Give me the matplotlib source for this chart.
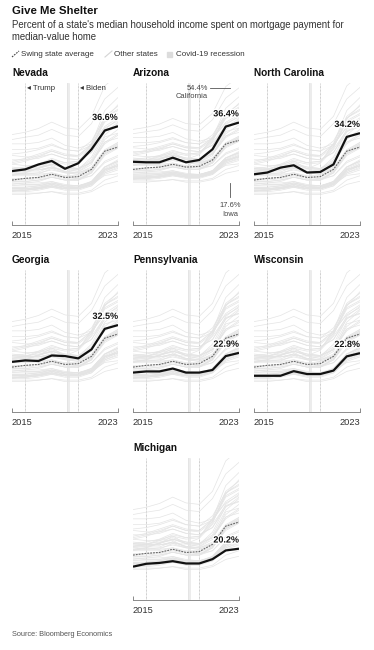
import matplotlib.pyplot as plt
import matplotlib.patheffects as pe
from matplotlib.lines import Line2D
from matplotlib.patches import Rectangle

plt.rcParams['font.family'] = ['Liberation Sans', 'DejaVu Sans']

# ==== DATA ====
years = [2015, 2016, 2017, 2018, 2019, 2020, 2021, 2022, 2023]

swing_names = ["Nevada", "Arizona", "North Carolina", "Georgia",
               "Pennsylvania", "Wisconsin", "Michigan"]
nevada = [21.1, 21.7, 23.4, 24.6, 21.9, 23.8, 28.6, 35.1, 36.6]
arizona = [21.0, 20.8, 20.8, 22.6, 20.8, 21.7, 25.9, 34.8, 36.4]
north_carolina = [20.0, 20.6, 22.3, 23.1, 20.6, 20.8, 23.4, 32.9, 34.2]
georgia = [19.8, 20.3, 20.1, 22.0, 21.8, 21.0, 24.1, 31.2, 32.5]
pennsylvania = [16.1, 16.5, 16.5, 17.5, 16.1, 16.1, 17.0, 21.8, 22.9]
wisconsin = [15.0, 15.0, 15.0, 16.6, 15.6, 15.6, 16.8, 21.7, 22.8]
michigan = [14.0, 15.0, 15.3, 15.9, 15.1, 15.1, 16.6, 19.6, 20.2]
swing_series = [nevada, arizona, north_carolina, georgia,
                pennsylvania, wisconsin, michigan]

swing_avg = [18.0, 18.6, 18.9, 20.0, 18.9, 19.2, 21.7, 28.0, 29.4]

# other states (read roughly off the grey spaghetti)
other_states = [
    [33.7, 34.5, 35.8, 38.0, 36.0, 35.5, 40.0, 50.5, 54.4],  # California
    [32.0, 32.8, 33.5, 35.5, 33.5, 33.0, 37.5, 46.0, 50.0],
    [27.0, 27.5, 28.5, 30.0, 28.5, 28.0, 31.5, 39.5, 42.5],
    [24.5, 25.5, 27.0, 28.5, 27.0, 26.5, 30.0, 38.5, 41.0],
    [23.5, 24.5, 26.0, 28.0, 26.5, 26.5, 30.5, 40.0, 43.5],
    [24.0, 25.0, 26.5, 28.0, 26.5, 26.0, 29.5, 38.0, 40.5],
    [22.0, 22.5, 23.5, 25.5, 24.0, 24.5, 29.0, 39.0, 44.0],
    [19.5, 20.5, 22.0, 24.5, 23.5, 24.0, 30.5, 42.0, 46.5],
    [21.0, 21.5, 23.0, 25.0, 24.0, 24.5, 29.5, 39.5, 42.0],
    [20.5, 21.0, 22.0, 23.5, 22.0, 22.0, 25.0, 33.5, 37.5],
    [28.5, 28.5, 29.0, 30.5, 28.5, 28.0, 30.0, 36.5, 39.5],
    [26.5, 26.0, 26.0, 27.0, 25.5, 25.0, 27.5, 34.5, 38.0],
    [25.0, 25.0, 25.5, 27.0, 25.5, 25.0, 27.5, 35.5, 39.0],
    [23.5, 23.0, 23.0, 24.0, 22.5, 22.0, 24.0, 30.5, 33.5],
    [21.5, 21.5, 22.0, 23.5, 22.0, 21.5, 24.5, 32.0, 35.5],
    [22.0, 22.0, 22.5, 23.5, 22.5, 22.0, 24.0, 31.0, 34.0],
    [22.5, 22.0, 21.5, 22.0, 20.5, 20.0, 21.5, 27.5, 30.5],
    [22.0, 21.5, 21.5, 22.5, 21.0, 20.5, 22.0, 27.5, 30.0],
    [21.5, 21.5, 21.5, 22.5, 21.0, 20.5, 22.5, 28.5, 31.0],
    [20.0, 20.0, 20.5, 21.5, 20.5, 20.0, 22.0, 28.0, 30.5],
    [30.5, 30.5, 31.0, 32.5, 30.0, 29.0, 30.5, 36.0, 38.5],
    [18.5, 18.5, 19.0, 20.0, 19.0, 19.0, 21.0, 27.0, 29.5],
    [16.5, 17.0, 17.5, 19.0, 18.0, 18.0, 21.0, 28.0, 31.0],
    [17.5, 17.5, 18.0, 19.0, 18.0, 18.0, 20.5, 27.0, 29.5],
    [18.0, 18.5, 19.0, 20.0, 19.0, 18.5, 20.5, 27.5, 29.0],
    [19.5, 19.5, 19.5, 20.5, 19.5, 19.5, 21.5, 27.5, 30.0],
    [17.5, 17.5, 18.0, 19.0, 18.0, 18.0, 20.5, 26.5, 29.0],
    [20.5, 20.0, 20.0, 20.5, 19.0, 18.5, 19.5, 24.0, 26.0],
    [18.0, 18.0, 18.5, 19.5, 18.5, 18.0, 19.5, 24.5, 26.5],
    [15.0, 15.0, 15.5, 16.5, 15.5, 15.5, 17.5, 22.5, 24.5],
    [14.5, 14.5, 15.0, 16.0, 15.0, 15.0, 16.5, 21.5, 23.5],
    [17.0, 17.0, 17.0, 17.5, 16.5, 16.0, 17.0, 21.5, 23.0],
    [14.5, 14.5, 15.0, 16.0, 15.0, 15.0, 17.0, 22.0, 24.0],
    [15.0, 15.0, 15.5, 16.5, 15.5, 15.5, 17.5, 22.5, 24.5],
    [15.5, 15.5, 16.0, 17.0, 16.0, 16.0, 17.5, 22.5, 25.0],
    [14.0, 14.0, 14.5, 15.5, 15.0, 15.0, 16.5, 21.5, 23.5],
    [14.5, 14.5, 15.0, 16.0, 15.0, 15.0, 16.5, 21.0, 23.0],
    [17.0, 16.5, 16.5, 17.0, 16.0, 15.5, 16.5, 20.5, 22.0],
    [15.0, 15.0, 15.5, 16.0, 15.0, 15.0, 16.5, 21.0, 23.0],
    [15.5, 15.5, 16.0, 17.0, 16.0, 16.0, 17.5, 22.5, 24.5],
    [14.5, 14.5, 15.0, 15.5, 14.5, 14.5, 16.0, 20.5, 22.5],
    [16.0, 16.0, 16.0, 16.5, 15.5, 15.0, 16.0, 20.0, 21.5],
    [13.5, 13.5, 13.5, 14.0, 13.5, 13.5, 14.5, 18.0, 19.5],
    [13.0, 13.0, 13.5, 14.0, 13.0, 13.0, 14.0, 16.5, 17.6],  # Iowa
]

trump_x = 2016.0
biden_x = 2020.0
covid_span = (2019.12, 2019.3)

# ==== LAYOUT (pixels of a 374x650 canvas) ====
W, H = 374, 650
fig = plt.figure(figsize=(W / 100, H / 100), dpi=100)
fig.patch.set_facecolor('white')

col_left = [12, 133, 254]
row_top = [83, 270, 458]
ax_w, ax_h = 106, 142
slots = [(0, 0), (0, 1), (0, 2), (1, 0), (1, 1), (1, 2), (2, 1)]

GREY = '#e4e4e4'
DARK = '#111111'


def ftext(x, y, s, **kw):
    fig.text(x / W, 1 - y / H, s, va='center', **kw)


ftext(12, 11, "Give Me Shelter", fontsize=8.2, fontweight='bold', color='#111')
ftext(12, 25, "Percent of a state's median household income spent on mortgage payment for",
      fontsize=6.9, color='#333')
ftext(12, 37, "median-value home", fontsize=6.9, color='#333')

# legend
fig.add_artist(Line2D([12 / W, 19 / W], [1 - 57 / H, 1 - 51 / H], color='#444',
                      lw=0.8, linestyle=(0, (1.5, 1))))
ftext(21, 54, "Swing state average", fontsize=5.8, color='#333')
fig.add_artist(Line2D([105 / W, 112 / W], [1 - 57 / H, 1 - 51 / H], color='#d4d4d4', lw=0.8))
ftext(114, 54, "Other states", fontsize=5.8, color='#333')
fig.add_artist(Rectangle((167 / W, 1 - 56.5 / H), 5 / W, 5 / H, color='#dcdcdc',
                         transform=fig.transFigure))
ftext(176, 54, "Covid-19 recession", fontsize=5.8, color='#333')

ftext(12, 634, "Source: Bloomberg Economics", fontsize=5.3, color='#555')

for i, (name, vals) in enumerate(zip(swing_names, swing_series)):
    r, c = slots[i]
    left = col_left[c]
    top = row_top[r]
    ax = fig.add_axes([left / W, 1 - (top + ax_h) / H, ax_w / W, ax_h / H])
    ax.set_facecolor('none')

    ax.axvspan(*covid_span, color='#ececec', lw=0, zorder=0)
    for xv in covid_span:
        ax.axvline(xv, color='#dedede', lw=0.4, zorder=0)
    for xv in (trump_x, biden_x):
        ax.axvline(xv, color='#a0a0a0', lw=0.5, linestyle=(0, (1, 1)), zorder=1)

    for s in other_states:
        ax.plot(years, s, color=GREY, lw=0.5, zorder=2)
    for j, other in enumerate(swing_series):
        if j != i:
            ax.plot(years, other, color=GREY, lw=0.5, zorder=2)

    ax.plot(years, swing_avg, color='#666666', lw=0.8, linestyle=(0, (1.6, 1)), zorder=3)
    ax.plot(years, vals, color=DARK, lw=1.6, zorder=4, solid_capstyle='butt')

    ax.annotate(f"{vals[-1]:.1f}%", xy=(years[-1], vals[-1]), xytext=(0, 3),
                textcoords='offset points', ha='right', va='bottom',
                fontsize=6.5, fontweight='bold', color=DARK, zorder=5,
                path_effects=[pe.withStroke(linewidth=2, foreground='white')])

    ax.set_xlim(years[0], years[-1])
    if name == "Arizona":
        ax.set_ylim(-3.8, 51.9)
    else:
        ax.set_ylim(2.5, 51.5)

    for sp in ('top', 'left', 'right'):
        ax.spines[sp].set_visible(False)
    ax.spines['bottom'].set_color('#777')
    ax.spines['bottom'].set_linewidth(0.6)
    ax.set_yticks([])
    ax.set_xticks([years[0], years[-1]])
    ax.set_xticklabels([str(years[0]), str(years[-1])])
    ax.tick_params(axis='x', direction='in', length=3, width=0.6, color='#777',
                   labelsize=6.7, labelcolor='#333', pad=4)
    lbls = ax.get_xticklabels()
    lbls[0].set_ha('left')
    lbls[1].set_ha('right')

    ax.text(0, 1.07, name, transform=ax.transAxes, fontsize=7.3,
            fontweight='bold', color='#111', va='center', ha='left')

    if name == "Nevada":
        ax.text(trump_x + 0.15, 0.963, "◂ Trump", transform=ax.get_xaxis_transform(),
                fontsize=5.6, color='#333', va='center', ha='left')
        ax.text(biden_x + 0.15, 0.963, "◂ Biden", transform=ax.get_xaxis_transform(),
                fontsize=5.6, color='#333', va='center', ha='left')
    if name == "Arizona":
        ax.text(0.708, 0.963, "54.4%", transform=ax.transAxes, fontsize=5.4,
                color='#444', ha='right', va='center')
        ax.text(0.708, 0.905, "California", transform=ax.transAxes, fontsize=5.4,
                color='#444', ha='right', va='center')
        ax.plot([0.726, 0.915], [0.963, 0.963], transform=ax.transAxes,
                color='#555', lw=0.6, clip_on=False)
        ax.plot([0.915, 0.915], [0.197, 0.296], transform=ax.transAxes,
                color='#555', lw=0.6, clip_on=False)
        ax.text(0.915, 0.136, "17.6%", transform=ax.transAxes, fontsize=5.4,
                color='#444', ha='center', va='center')
        ax.text(0.915, 0.077, "Iowa", transform=ax.transAxes, fontsize=5.4,
                color='#444', ha='center', va='center')

fig.savefig('out.png', dpi=100)
